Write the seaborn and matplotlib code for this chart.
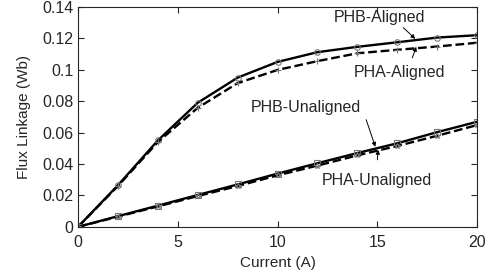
import numpy as np
import pandas as pd
import seaborn as sns
import matplotlib
matplotlib.use("Agg")
import matplotlib.pyplot as plt

# data
current = [0, 2, 4, 6, 8, 10, 12, 14, 16, 18, 20]
phb_aligned = [0, 0.0265, 0.055, 0.079, 0.095, 0.105, 0.1112, 0.1146, 0.1175, 0.1205, 0.122]
pha_aligned = [0, 0.026, 0.054, 0.0758, 0.0915, 0.0999, 0.1055, 0.1105, 0.1127, 0.1148, 0.1172]
phb_unaligned = [0, 0.0068, 0.0135, 0.0203, 0.027, 0.0339, 0.0405, 0.047, 0.0532, 0.0603, 0.0669]
pha_unaligned = [0, 0.0065, 0.013, 0.0196, 0.026, 0.0328, 0.039, 0.0455, 0.0515, 0.058, 0.0648]

series = {
    "PHB-Aligned": (phb_aligned, "-", "o"),
    "PHA-Aligned": (pha_aligned, "--", "+"),
    "PHB-Unaligned": (phb_unaligned, "-", "s"),
    "PHA-Unaligned": (pha_unaligned, "--", "*"),
}

sns.set_style("ticks")
plt.rcParams["font.family"] = ["Liberation Sans", "DejaVu Sans"]

fig = plt.figure(figsize=(4.97, 2.77), dpi=100)
ax = fig.add_axes([0.157, 0.181, 0.803, 0.794])

for name, (vals, ls, mk) in series.items():
    df = pd.DataFrame({"Current": current, "Flux": vals})
    sns.lineplot(data=df, x="Current", y="Flux", ax=ax, color="black",
                 linestyle=ls, linewidth=1.7, marker=mk, markersize=4,
                 markerfacecolor="none", markeredgecolor="#777777",
                 markeredgewidth=0.8)

ax.set_xlim(0, 20)
ax.set_ylim(0, 0.14)
ax.set_xticks([0, 5, 10, 15, 20])
yt = [0, 0.02, 0.04, 0.06, 0.08, 0.1, 0.12, 0.14]
ax.set_yticks(yt)
ax.set_yticklabels(["0", "0.02", "0.04", "0.06", "0.08", "0.1", "0.12", "0.14"])
ax.tick_params(direction="in", top=True, right=True, labelsize=11.5, length=4, width=0.8)
ax.tick_params(axis="x", pad=6)
for sp in ax.spines.values():
    sp.set_visible(True)
    sp.set_linewidth(0.8)
ax.set_xlabel("Current (A)", fontsize=11, labelpad=4)
ax.set_ylabel("Flux Linkage (Wb)", fontsize=11, labelpad=8)

# labels and their short arrows
labels = ["PHB-Aligned", "PHA-Aligned", "PHB-Unaligned", "PHA-Unaligned"]
label_xy = [(15.1, 0.1335), (16.1, 0.0985), (11.4, 0.0758), (15.0, 0.0293)]
arrow_from = [(16.3, 0.1268), (16.75, 0.1076), (14.44, 0.0682), (15.0, 0.0427)]
arrow_to = [(16.9, 0.1197), (16.95, 0.1146), (14.9, 0.051), (15.04, 0.049)]

for lab, (tx, ty), a0, a1 in zip(labels, label_xy, arrow_from, arrow_to):
    ax.text(tx, ty, lab, ha="center", va="center", fontsize=11.5)
    ax.annotate("", xy=a1, xytext=a0,
                arrowprops=dict(arrowstyle="-|>", color="black", lw=0.7,
                                mutation_scale=6, shrinkA=0, shrinkB=0))

fig.savefig("out.png", dpi=100)
